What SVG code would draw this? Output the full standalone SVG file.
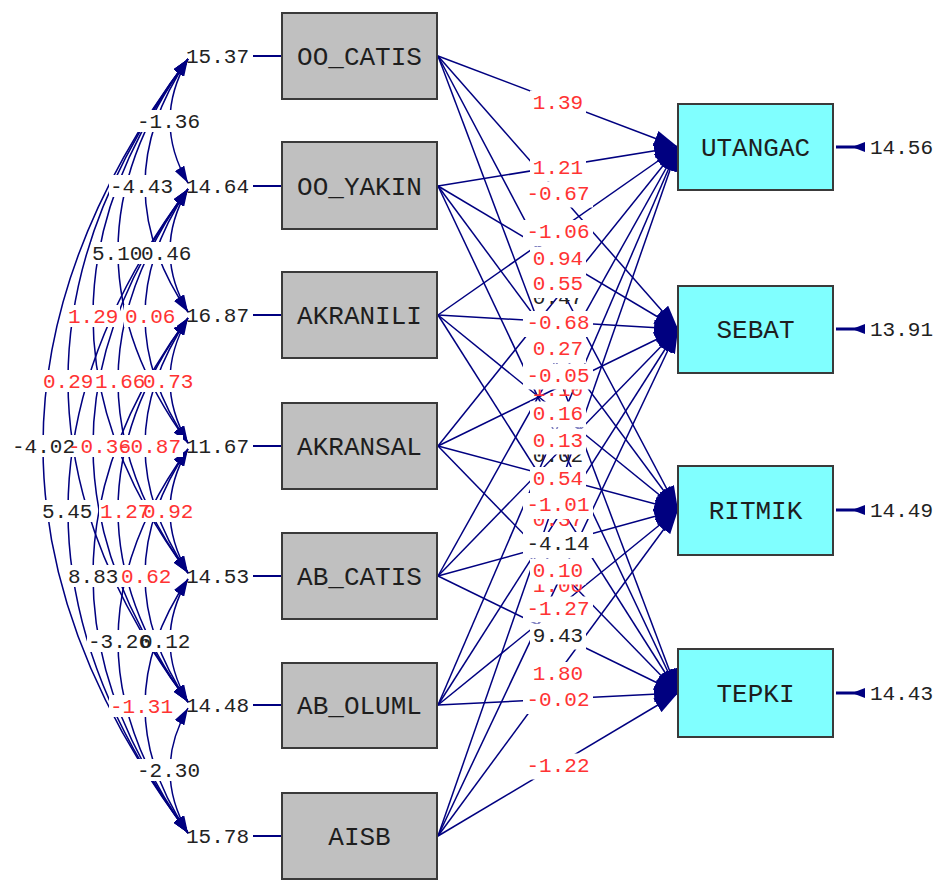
<svg xmlns="http://www.w3.org/2000/svg" width="945" height="882" viewBox="0 0 945 882">
<defs>
<style>
.ln{stroke:#000080;stroke-width:1.5;fill:none}
.vl{stroke:#000080;stroke-width:2;fill:none}
.t{font-family:"Liberation Mono","DejaVu Sans Mono",monospace;font-size:21px}
.r{fill:#ff3333}
.k{fill:#222}
.bg{fill:#fff}
.b1{fill:#c0c0c0;stroke:#3a3a3a;stroke-width:2}
.b2{fill:#80ffff;stroke:#3a3a3a;stroke-width:2}
.nm{font-family:"Liberation Mono","DejaVu Sans Mono",monospace;font-size:26px;fill:#1e1e1e;text-anchor:middle}
.ca{marker-start:url(#ah);marker-end:url(#ah)}
.pa{marker-end:url(#ph)}
</style>
<marker id="ah" markerUnits="userSpaceOnUse" markerWidth="17" markerHeight="11" refX="17" refY="5.5" orient="auto-start-reverse"><path d="M0,0 L17,5.5 L0,11 z" fill="#000080"/></marker>
<marker id="ph" markerUnits="userSpaceOnUse" markerWidth="24" markerHeight="16" refX="24" refY="8" orient="auto"><path d="M0,0 L24,8 L0,16 z" fill="#000080"/></marker>
</defs>
<rect width="945" height="882" fill="#fff"/>

<g id="variances" class="t k" text-anchor="end">
<text x="249" y="63">15.37</text>
<text x="249" y="193">14.64</text>
<text x="249" y="322">16.87</text>
<text x="249" y="453">11.67</text>
<text x="249" y="583">14.53</text>
<text x="249" y="712">14.48</text>
<text x="249" y="843">15.78</text>
</g>

<g id="connectors">
<g class="ln ca">
<path d="M188,59 Q152,121 188,183"/>
<path d="M188,59 Q102,185.5 188,312"/>
<path d="M188,59 Q48,251 188,443"/>
<path d="M188,59 Q-2,316 188,573"/>
<path d="M188,59 Q-52,380.5 188,702"/>
<path d="M188,59 Q-102,446 188,833"/>
<path d="M188,189 Q152,250.5 188,312"/>
<path d="M188,189 Q102,316 188,443"/>
<path d="M188,189 Q48,381 188,573"/>
<path d="M188,189 Q-2,445.5 188,702"/>
<path d="M188,189 Q-52,511 188,833"/>
<path d="M188,318 Q152,380.5 188,443"/>
<path d="M188,318 Q102,445.5 188,573"/>
<path d="M188,318 Q48,510 188,702"/>
<path d="M188,318 Q-2,575.5 188,833"/>
<path d="M188,449 Q152,511 188,573"/>
<path d="M188,449 Q102,575.5 188,702"/>
<path d="M188,449 Q48,641 188,833"/>
<path d="M188,579 Q152,640.5 188,702"/>
<path d="M188,579 Q102,706 188,833"/>
<path d="M188,708 Q152,770.5 188,833"/>
</g>
<g class="vl">
<path d="M253,56 H282"/>
<path d="M253,186 H282"/>
<path d="M253,315 H282"/>
<path d="M253,446 H282"/>
<path d="M253,576 H282"/>
<path d="M253,705 H282"/>
<path d="M253,836 H282"/>
</g>
<g class="ln pa">
<path d="M438,56 L678,147"/><path d="M438,56 L678,329"/><path d="M438,56 L678,510"/><path d="M438,56 L678,693"/>
<path d="M438,186 L678,147"/><path d="M438,186 L678,329"/><path d="M438,186 L678,510"/><path d="M438,186 L678,693"/>
<path d="M438,315 L678,147"/><path d="M438,315 L678,329"/><path d="M438,315 L678,510"/><path d="M438,315 L678,693"/>
<path d="M438,446 L678,147"/><path d="M438,446 L678,329"/><path d="M438,446 L678,510"/><path d="M438,446 L678,693"/>
<path d="M438,576 L678,147"/><path d="M438,576 L678,329"/><path d="M438,576 L678,510"/><path d="M438,576 L678,693"/>
<path d="M438,705 L678,147"/><path d="M438,705 L678,329"/><path d="M438,705 L678,510"/><path d="M438,705 L678,693"/>
<path d="M438,836 L678,147"/><path d="M438,836 L678,329"/><path d="M438,836 L678,510"/><path d="M438,836 L678,693"/>
</g>
<g id="errors" fill="#000080">
<path d="M836,147 H858 M836,329 H858 M836,510 H858 M836,693 H858" stroke="#000080" stroke-width="3"/>
<polygon points="852,147 865,142 865,152"/>
<polygon points="852,329 865,324 865,334"/>
<polygon points="852,510 865,505 865,515"/>
<polygon points="852,693 865,688 865,698"/>
</g>
</g>

<g id="cov-labels" class="t">
<g class="bg">
<rect x="136" y="110" width="66" height="22"/>
<rect x="109" y="175" width="66" height="22"/>
<rect x="91" y="242" width="53" height="22"/>
<rect x="140" y="242" width="53" height="22"/>
<rect x="67" y="305" width="53" height="22"/>
<rect x="124" y="305" width="53" height="22"/>
<rect x="42" y="370" width="53" height="22"/>
<rect x="94" y="370" width="53" height="22"/>
<rect x="142" y="370" width="53" height="22"/>
<rect x="11" y="435" width="66" height="22"/>
<rect x="67" y="435" width="66" height="22"/>
<rect x="117" y="435" width="66" height="22"/>
<rect x="41" y="500" width="53" height="22"/>
<rect x="99" y="500" width="53" height="22"/>
<rect x="142" y="500" width="53" height="22"/>
<rect x="67" y="565" width="53" height="22"/>
<rect x="120" y="565" width="53" height="22"/>
<rect x="87" y="630" width="66" height="22"/>
<rect x="139" y="630" width="53" height="22"/>
<rect x="109" y="695" width="66" height="22"/>
<rect x="136" y="759" width="66" height="22"/>
</g>
<text class="k" x="137" y="128">-1.36</text>
<text class="k" x="110" y="193">-4.43</text>
<text class="k" x="92" y="260">5.10</text>
<text class="k" x="141" y="260">0.46</text>
<text class="r" x="68" y="323">1.29</text>
<text class="r" x="125" y="323">0.06</text>
<text class="r" x="43" y="388">0.29</text>
<text class="r" x="95" y="388">1.66</text>
<text class="r" x="143" y="388">0.73</text>
<text class="k" x="12" y="453">-4.02</text>
<text class="r" x="68" y="453">-0.36</text>
<text class="r" x="118" y="453">-0.87</text>
<text class="k" x="42" y="518">5.45</text>
<text class="r" x="100" y="518">1.27</text>
<text class="r" x="143" y="518">0.92</text>
<text class="k" x="68" y="583">8.83</text>
<text class="r" x="121" y="583">0.62</text>
<text class="k" x="88" y="648">-3.26</text>
<text class="k" x="140" y="648">0.12</text>
<text class="r" x="110" y="713">-1.31</text>
<text class="k" x="137" y="777">-2.30</text>
</g>

<g id="path-labels" class="t" text-anchor="middle">
<text class="k" x="558" y="304">0.47</text>
<text class="r" x="558" y="396">1.10</text>
<text class="k" x="558" y="462">0.02</text>
<text class="r" x="558" y="526">0.37</text>
<text class="r" x="558" y="592">1.00</text>
<rect class="bg" x="530" y="90.5" width="56" height="26"/><text class="r" x="558" y="108.5">1.39</text>
<rect class="bg" x="530" y="155.5" width="56" height="26"/><text class="r" x="558" y="173.5">1.21</text>
<rect class="bg" x="523" y="181.5" width="70" height="26"/><text class="r" x="558" y="199.5">-0.67</text>
<rect class="bg" x="523" y="220" width="70" height="26"/><text class="r" x="558" y="238">-1.06</text>
<rect class="bg" x="530" y="246.5" width="56" height="26"/><text class="r" x="558" y="264.5">0.94</text>
<rect class="bg" x="530" y="272" width="56" height="26"/><text class="r" x="558" y="290">0.55</text>
<rect class="bg" x="523" y="311" width="70" height="26"/><text class="r" x="558" y="329">-0.68</text>
<rect class="bg" x="530" y="337" width="56" height="26"/><text class="r" x="558" y="355">0.27</text>
<rect class="bg" x="523" y="363.5" width="70" height="26"/><text class="r" x="558" y="381.5">-0.05</text>
<rect class="bg" x="530" y="401.5" width="56" height="26"/><text class="r" x="558" y="419.5">0.16</text>
<rect class="bg" x="530" y="428.5" width="56" height="26"/><text class="r" x="558" y="446.5">0.13</text>
<rect class="bg" x="530" y="467" width="56" height="26"/><text class="r" x="558" y="485">0.54</text>
<rect class="bg" x="523" y="493" width="70" height="26"/><text class="r" x="558" y="511">-1.01</text>
<rect class="bg" x="523" y="532" width="70" height="26"/><text class="k" x="558" y="550">-4.14</text>
<rect class="bg" x="530" y="558.5" width="56" height="26"/><text class="r" x="558" y="576.5">0.10</text>
<rect class="bg" x="523" y="596.5" width="70" height="26"/><text class="r" x="558" y="614.5">-1.27</text>
<rect class="bg" x="530" y="623.5" width="56" height="26"/><text class="k" x="558" y="641.5">9.43</text>
<rect class="bg" x="530" y="662" width="56" height="26"/><text class="r" x="558" y="680">1.80</text>
<rect class="bg" x="523" y="688" width="70" height="26"/><text class="r" x="558" y="706">-0.02</text>
<rect class="bg" x="523" y="753.5" width="70" height="26"/><text class="r" x="558" y="771.5">-1.22</text>
</g>

<g id="error-values" class="t k">
<text x="870" y="154">14.56</text>
<text x="870" y="336">13.91</text>
<text x="870" y="517">14.49</text>
<text x="870" y="700">14.43</text>
</g>

<g id="OO_CATIS"><rect class="b1" x="282" y="13" width="155" height="86"/><text class="nm" x="359.5" y="65">OO_CATIS</text></g>
<g id="OO_YAKIN"><rect class="b1" x="282" y="142" width="155" height="87"/><text class="nm" x="359.5" y="195">OO_YAKIN</text></g>
<g id="AKRANILI"><rect class="b1" x="282" y="272" width="155" height="86"/><text class="nm" x="359.5" y="324">AKRANILI</text></g>
<g id="AKRANSAL"><rect class="b1" x="282" y="403" width="155" height="86"/><text class="nm" x="359.5" y="455">AKRANSAL</text></g>
<g id="AB_CATIS"><rect class="b1" x="282" y="533" width="155" height="86"/><text class="nm" x="359.5" y="585">AB_CATIS</text></g>
<g id="AB_OLUML"><rect class="b1" x="282" y="663" width="155" height="85"/><text class="nm" x="359.5" y="714">AB_OLUML</text></g>
<g id="AISB"><rect class="b1" x="282" y="793" width="155" height="86"/><text class="nm" x="359.5" y="845">AISB</text></g>

<g id="UTANGAC"><rect class="b2" x="678" y="104" width="155" height="86"/><text class="nm" x="755.5" y="156">UTANGAC</text></g>
<g id="SEBAT"><rect class="b2" x="678" y="286" width="155" height="87"/><text class="nm" x="755.5" y="338">SEBAT</text></g>
<g id="RITMIK"><rect class="b2" x="678" y="466" width="155" height="89"/><text class="nm" x="755.5" y="519">RITMIK</text></g>
<g id="TEPKI"><rect class="b2" x="678" y="649" width="155" height="88"/><text class="nm" x="755.5" y="702">TEPKI</text></g>
</svg>
